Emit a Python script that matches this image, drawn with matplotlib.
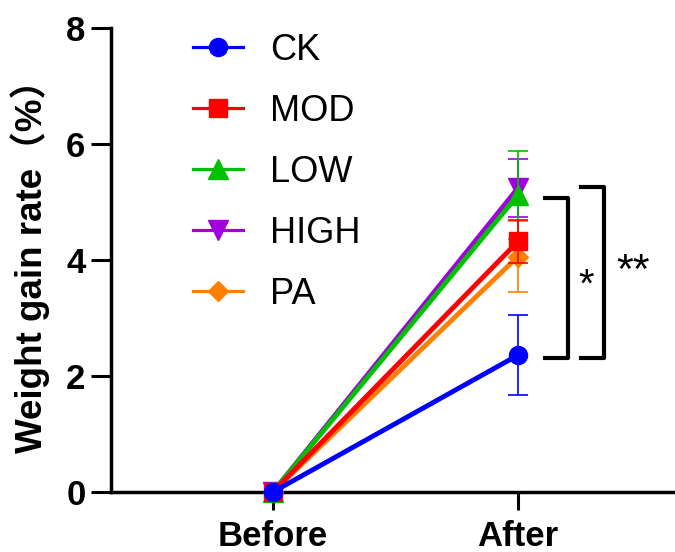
import matplotlib
matplotlib.use('Agg')
import matplotlib.pyplot as plt
from matplotlib.lines import Line2D

plt.rcParams['font.family'] = ['Liberation Sans', 'Noto Sans CJK SC', 'DejaVu Sans']

# 数据
groups = ['Before', 'After']
ck = [0, 2.36]
ck_err = [0, 0.69]
mod = [0, 4.32]
mod_err = [0, 0.37]
low = [0, 5.12]
low_err = [0, 0.76]
high = [0, 5.24]
high_err = [0, 0.50]
pa = [0, 4.06]
pa_err = [0, 0.61]

series = [
    ('PA', pa, pa_err, '#FF8000', 'D', 10),
    ('HIGH', high, high_err, '#A000E0', 'v', 15),
    ('LOW', low, low_err, '#00C000', '^', 15),
    ('MOD', mod, mod_err, '#FF0000', 's', 13),
    ('CK', ck, ck_err, '#0000FF', 'o', 13),
]
legend_order = ['CK', 'MOD', 'LOW', 'HIGH', 'PA']

fig = plt.figure(figsize=(6.75, 5.52), dpi=100)
ax = fig.add_axes([111 / 675, 60 / 552, 1 - 111 / 675, 464 / 552])

x = list(range(len(groups)))
handles = {}
for i, (name, vals, errs, color, marker, ms) in enumerate(series):
    ax.errorbar(x, vals, yerr=errs, fmt='none', ecolor=color, elinewidth=1.2,
                capsize=7, capthick=1.2, zorder=2 + i)
    ax.plot(x, vals, color=color, lw=3.5, marker=marker, markersize=ms,
            zorder=3 + i, clip_on=False)
    # 图例用细线
    handles[name] = Line2D([], [], color=color, lw=2.3, marker=marker, markersize=ms)

ax.set_xlim(-0.661, 1.641)
ax.set_ylim(0, 8)
ax.set_yticks([0, 2, 4, 6, 8])
ax.set_xticks(x)
ax.set_xticklabels(groups)

for s in ['top', 'right']:
    ax.spines[s].set_visible(False)
for s in ['left', 'bottom']:
    ax.spines[s].set_linewidth(2.5)

ax.tick_params(axis='y', length=14.4, width=2.2, pad=4, labelsize=25)
ax.tick_params(axis='x', length=13, width=2.2, pad=7, labelsize=25)
for lab in ax.get_xticklabels() + ax.get_yticklabels():
    lab.set_fontweight('bold')

ax.set_ylabel('Weight gain rate（%）', fontsize=26.5, fontweight='bold')
ax.yaxis.set_label_coords(-0.108, 0.505)

# 显著性标注
ax.plot([1.11, 1.204, 1.204, 1.11], [5.07, 5.07, 2.31, 2.31], color='black', lw=3, clip_on=False)
ax.plot([1.257, 1.351, 1.351, 1.257], [5.26, 5.26, 2.31, 2.31], color='black', lw=3, clip_on=False)
ax.text(1.28, 3.55, '*', fontsize=29, ha='center', va='center')
ax.text(1.47, 3.8, '**', fontsize=31, ha='center', va='center')

leg = ax.legend([handles[n] for n in legend_order], legend_order,
                loc='upper left', bbox_to_anchor=(193 / 675, 1 - 33 / 552),
                bbox_transform=fig.transFigure, frameon=False, fontsize=26,
                handlelength=1.38, handletextpad=0.75, labelspacing=0.72,
                borderpad=0, borderaxespad=0)

fig.savefig('out.png', dpi=100)
